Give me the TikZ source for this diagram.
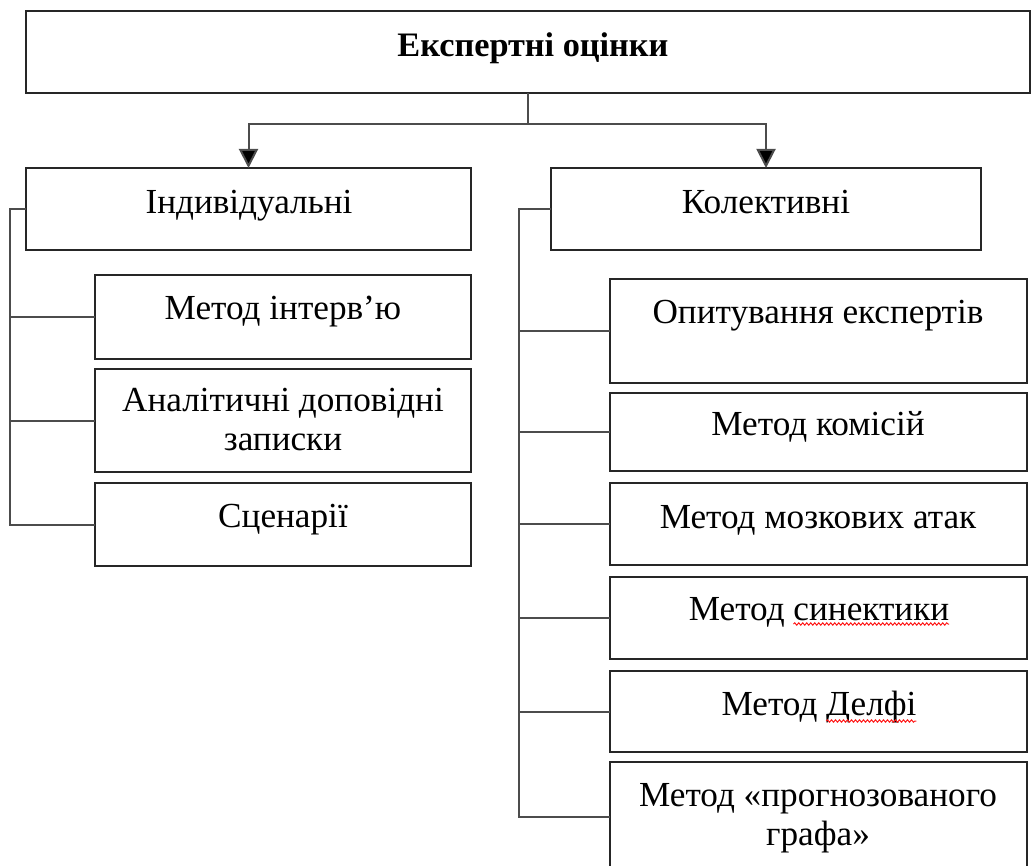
\documentclass[tikz,border=0pt]{standalone}
\usepackage{fontspec}
\setmainfont{Liberation Serif}
\usetikzlibrary{arrows.meta,calc,decorations.pathmorphing}
\newlength\wsin
\newlength\wdel
\newcommand\txtfont{\fontsize{35.2}{39}\selectfont}
\begin{document}
\settowidth\wsin{\txtfont синектики}%
\settowidth\wdel{\txtfont Делфі}%
\begin{tikzpicture}[x=1pt,y=-1pt,
  boxst/.style={draw=black!85,line width=2pt,inner sep=0pt,outer sep=0pt,anchor=north west},
  txt/.style={inner sep=0pt,outer sep=0pt,anchor=base,font=\txtfont,align=center},
  conn/.style={draw=black!70,line width=2pt},
  arr/.style={conn,-{Triangle[length=19pt,width=19pt,fill=black]}},
  squig/.style={draw=red!90,line width=1pt,decorate,decoration={snake,amplitude=1.2pt,segment length=4pt}}]
\useasboundingbox (0,0) rectangle (1032,866);
\begin{scope}
\clip (0,0) rectangle (1032,866);
% boxes
\node[boxst,minimum width=1004pt,minimum height=82pt] (top) at (26,11) {};
\node[boxst,minimum width=445pt,minimum height=82pt] (ind) at (26,168) {};
\node[boxst,minimum width=430pt,minimum height=82pt] (kol) at (551,168) {};
\node[boxst,minimum width=376pt,minimum height=84pt] (m1) at (95,275) {};
\node[boxst,minimum width=376pt,minimum height=103pt] (m2) at (95,369) {};
\node[boxst,minimum width=376pt,minimum height=83pt] (m3) at (95,483) {};
\node[boxst,minimum width=417pt,minimum height=104pt] (k1) at (610,279) {};
\node[boxst,minimum width=417pt,minimum height=78pt] (k2) at (610,393) {};
\node[boxst,minimum width=417pt,minimum height=82pt] (k3) at (610,483) {};
\node[boxst,minimum width=417pt,minimum height=82pt] (k4) at (610,577) {};
\node[boxst,minimum width=417pt,minimum height=81pt] (k5) at (610,671) {};
\node[boxst,minimum width=417pt,minimum height=110pt] (k6) at (610,762) {};
% texts
\node[txt,font=\fontsize{34.3}{40}\selectfont\bfseries] (ttop) at (533,57) {Експертні оцінки};
\node[txt] (tind) at (249,214) {Індивідуальні};
\node[txt] (tkol) at (766,214) {Колективні};
\node[txt] (tm1) at (283,319) {Метод інтерв’ю};
\node[txt,anchor=north] (tm2) at (283,388) {Аналітичні доповідні\\записки};
\node[txt] (tm3) at (283,527) {Сценарії};
\node[txt] (tk1) at (818,323) {Опитування експертів};
\node[txt] (tk2) at (818,435) {Метод комісій};
\node[txt] (tk3) at (818,528) {Метод мозкових атак};
\node[txt] (tk4) at (819,620) {Метод синектики};
\node[txt] (tk5) at (819,715) {Метод Делфі};
\node[txt,anchor=north] (tk6) at (818,783) {Метод «прогнозованого\\графа»};
% spell-check squiggles
\draw[squig] ($(tk4.base east)+(-\wsin,-4pt)$) -- ($(tk4.base east)+(0pt,-4pt)$);
\draw[squig] ($(tk5.base east)+(-\wdel,-6pt)$) -- ($(tk5.base east)+(0pt,-6pt)$);
% top connectors
\coordinate (j) at ($(top.south)+(0,31)$);
\draw[conn] (top.south) -- (j);
\draw[arr] (j) -| (ind.north);
\draw[arr] (j) -| (kol.north);
% left bracket
\coordinate (lx) at (10,0);
\draw[conn] (ind.west) -- (ind.west -| lx) -- (m3.west -| lx) -- (m3.west);
\draw[conn] (m1.west) -- (m1.west -| lx);
\draw[conn] (m2.west) -- (m2.west -| lx);
% right bracket
\coordinate (rx) at (518.5,0);
\draw[conn] (kol.west) -- (kol.west -| rx) -- (k6.west -| rx) -- (k6.west);
\foreach \b in {k1,k2,k3,k4,k5} \draw[conn] (\b.west) -- (\b.west -| rx);
\end{scope}
\end{tikzpicture}
\end{document}
